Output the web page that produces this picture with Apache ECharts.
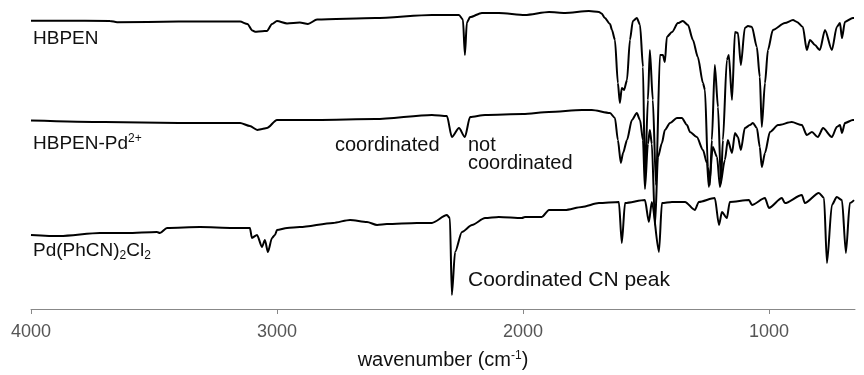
<!DOCTYPE html>
<html>
<head>
<meta charset="utf-8">
<script src="https://cdn.jsdelivr.net/npm/echarts@6/dist/echarts.min.js"></script>
<style>
html,body{margin:0;padding:0;background:#fff}
#main{width:864px;height:375px}
</style>
</head>
<body>
<div id="main"></div>
<script>
// wavenumber (cm-1), offset transmittance (a.u.)
var hbpen = [[4000,96.1],[3882,96.1],[3679,96.0],[3650,95.6],[3400,95.8],[3150,95.8],[3120,95.0],[3100,92.8],[3089,92.4],[3060,92.6],[3041,92.7],[3020,95.0],[3000,96.0],[2959,95.2],[2907,95.5],[2874,95.0],[2837,96.5],[2600,97.0],[2370,98.0],[2260,98.0],[2244,96.5],[2236,84.7],[2228,95.5],[2215,97.3],[2167,98.7],[2098,98.7],[1992,98.0],[1894,99.0],[1829,98.7],[1732,99.3],[1691,99.0],[1680,98.5],[1667,97.0],[1646,95.0],[1638,93.0],[1626,89.7],[1614,75.3],[1606,68.7],[1598,73.7],[1589,73.0],[1577,76.3],[1565,89.7],[1553,96.0],[1537,97.0],[1524,94.7],[1512,80.7],[1504,43.0],[1492,69.7],[1484,86.3],[1472,69.7],[1459,41.3],[1443,84.7],[1431,84.7],[1423,82.3],[1415,90.7],[1394,92.3],[1370,95.3],[1350,96.0],[1329,94.7],[1309,89.7],[1289,84.0],[1268,75.3],[1260,73.0],[1248,47.3],[1240,41.3],[1232,56.3],[1220,81.3],[1207,67.3],[1195,42.0],[1187,56.3],[1171,83.0],[1163,84.7],[1150,69.7],[1138,92.3],[1126,92.0],[1114,81.3],[1098,93.7],[1085,94.3],[1069,94.0],[1049,87.3],[1037,77.3],[1029,60.7],[1016,75.3],[1004,86.3],[984,93.0],[935,95.3],[902,96.3],[886,95.7],[862,94.0],[846,86.3],[833,89.7],[813,88.0],[793,86.3],[772,93.0],[744,86.3],[724,94.0],[711,95.3],[703,90.3],[691,95.7],[659,97.0],[654,97.0]];

var hbpenPd = [[4000,62.8],[3700,62.3],[3400,62.0],[3150,62.0],[3110,61.0],[3080,59.7],[3060,60.0],[3041,60.3],[3000,63.0],[2837,63.0],[2600,63.3],[2370,64.7],[2309,64.3],[2289,57.3],[2260,60.3],[2236,57.3],[2215,64.0],[2154,64.7],[2000,65.0],[1894,65.7],[1760,66.3],[1720,66.3],[1646,65.3],[1626,63.7],[1614,56.3],[1602,48.7],[1593,52.0],[1577,56.3],[1557,63.0],[1537,65.3],[1524,63.0],[1512,56.3],[1504,40.0],[1492,55.0],[1484,59.7],[1476,55.0],[1463,28.0],[1451,50.7],[1435,55.3],[1423,59.7],[1402,62.0],[1374,63.7],[1354,63.7],[1333,61.3],[1321,59.0],[1293,57.3],[1268,53.0],[1252,48.7],[1244,40.7],[1228,54.0],[1211,50.7],[1199,40.7],[1179,49.7],[1167,56.3],[1150,52.0],[1138,58.7],[1126,57.3],[1114,53.0],[1098,60.3],[1077,61.3],[1065,62.0],[1049,60.3],[1037,54.0],[1029,47.3],[1016,52.0],[996,59.0],[963,61.3],[907,62.3],[866,61.3],[846,58.0],[825,59.0],[801,57.3],[780,60.3],[744,57.3],[724,60.7],[711,61.3],[703,58.7],[691,62.0],[659,63.0],[654,63.0]];

var pdCl2 = [[4000,24.7],[3882,24.3],[3720,25.3],[3610,25.3],[3488,25.7],[3476,25.3],[3447,27.0],[3313,27.3],[3179,27.0],[3110,27.0],[3102,23.7],[3081,24.7],[3061,20.7],[3049,23.0],[3037,19.0],[3020,23.7],[3008,24.7],[3000,26.3],[2959,27.0],[2907,27.3],[2772,28.7],[2703,29.7],[2634,29.0],[2593,28.0],[2553,28.3],[2431,28.7],[2370,28.7],[2309,31.3],[2297,30.3],[2289,4.7],[2276,19.0],[2248,25.7],[2207,28.0],[2154,30.3],[2098,30.7],[2004,30.3],[1992,30.7],[1923,30.7],[1894,33.0],[1829,33.0],[1760,34.0],[1691,35.3],[1610,35.7],[1598,22.0],[1585,35.3],[1504,36.3],[1488,29.0],[1476,35.7],[1447,19.0],[1435,35.3],[1394,35.7],[1341,35.7],[1301,33.0],[1285,35.7],[1220,37.0],[1203,28.0],[1191,32.3],[1171,30.3],[1159,35.7],[1081,36.3],[1069,34.7],[1016,37.0],[1000,33.7],[947,37.0],[935,35.3],[866,38.0],[854,35.3],[797,38.7],[776,37.0],[764,15.3],[744,34.7],[724,37.3],[703,36.3],[687,18.7],[671,35.3],[654,36.3]];

var tickValues = [1000, 2000, 3000, 4000];
</script>
<script>
var myChart = echarts.init(document.getElementById('main'));
var font = 'Liberation Sans';
function lineSeries(name, data) {
	return {
		name: name,
		type: 'line',
		symbol: 'none',
		smooth: 0.25,
		smoothMonotone: 'x',
		lineStyle: { color: '#000', width: 2 },
		data: data
	};
}
var rich = {
	sup: { fontFamily: font, fontSize: 12, lineHeight: 12, verticalAlign: 'top', fill: '#111' },
	sub: { fontFamily: font, fontSize: 12, lineHeight: 12, verticalAlign: 'bottom', fill: '#111' }
};
var option = {
	animation: false,
	grid: { left: 31, right: 9, top: 9, bottom: 66 },
	xAxis: {
		type: 'value',
		inverse: true,
		min: 650,
		max: 4000,
		name: 'wavenumber (cm{sup|-1})',
		nameLocation: 'middle',
		nameGap: 41,
		nameTextStyle: {
			fontFamily: font, fontSize: 20, color: '#111',
			rich: { sup: { fontFamily: font, fontSize: 12, lineHeight: 12, verticalAlign: 'top', color: '#111' } }
		},
		axisLine: { lineStyle: { color: '#888', width: 1 } },
		axisTick: { length: 5, customValues: tickValues, lineStyle: { color: '#888' } },
		axisLabel: {
			customValues: tickValues, fontFamily: font, fontSize: 18, color: '#555', margin: 14,
			formatter: function (v) { return String(v); }
		},
		splitLine: { show: false }
	},
	yAxis: { type: 'value', min: 0, max: 100, show: false },
	series: [
		lineSeries('HBPEN', hbpen),
		lineSeries('HBPEN-Pd2+', hbpenPd),
		lineSeries('Pd(PhCN)2Cl2', pdCl2)
	],
	graphic: [
		{ type: 'text', left: 33, top: 29, style: { text: 'HBPEN', font: '19px ' + font, fill: '#111' } },
		{ type: 'text', left: 33, top: 133, style: { text: 'HBPEN-Pd{sup|2+}', font: '19px ' + font, lineHeight: 22, fill: '#111', rich: rich } },
		{ type: 'text', left: 335, top: 135, style: { text: 'coordinated', font: '20px ' + font, fill: '#111' } },
		{ type: 'text', left: 468, top: 135, style: { text: 'not', font: '20px ' + font, fill: '#111' } },
		{ type: 'text', left: 468, top: 153, style: { text: 'coordinated', font: '20px ' + font, fill: '#111' } },
		{ type: 'text', left: 33, top: 240, style: { text: 'Pd(PhCN){sub|2}Cl{sub|2}', font: '19px ' + font, lineHeight: 22, fill: '#111', rich: rich } },
		{ type: 'text', left: 468, top: 270, style: { text: 'Coordinated CN peak', font: '21px ' + font, fill: '#111' } }
	]
};
myChart.setOption(option);
</script>
</body>
</html>
